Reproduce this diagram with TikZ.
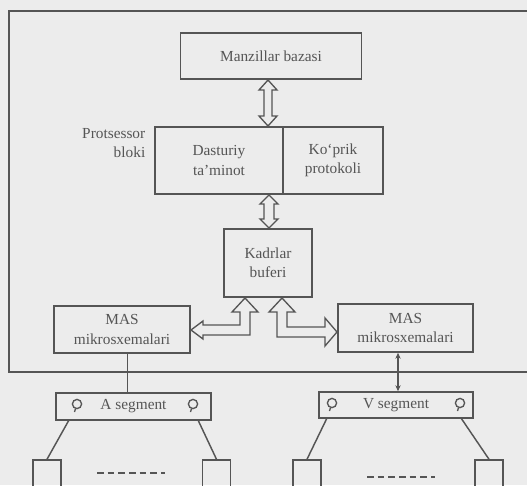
\documentclass[tikz,border=0pt]{standalone}
\usepackage{fontspec}
\setmainfont{Liberation Serif}
\usetikzlibrary{arrows.meta}
\definecolor{bg}{RGB}{236,236,236}
\definecolor{ink}{RGB}{85,85,85}
\begin{document}
\begin{tikzpicture}[x=0.75pt,y=-0.75pt,
  line width=1.1pt, draw=ink,
  box/.style={draw=ink, line width=1.2pt, text=ink, align=center, inner sep=0pt,
    font=\fontsize{11.5}{14.5}\selectfont},
  lbl/.style={text=ink, inner sep=0pt, font=\fontsize{11.5}{14.5}\selectfont},
  hollow/.style={draw=ink, line width=1pt, fill=bg, line join=miter},
  term/.style={draw=ink, line width=1.1pt, minimum width=21pt, minimum height=21pt, inner sep=0pt}]
\useasboundingbox (0,0) rectangle (527,485);
\clip (0,0) rectangle (527,485);
\fill[bg] (0,0) rectangle (527,485);
% outer frame (open to the right)
\draw[ink, line width=1.2pt] (540,11) -- (9,11) -- (9,372) -- (540,372);
% boxes
\node[box, minimum width=135.75pt, minimum height=34.5pt] (addr) at (271,56) {Manzillar bazasi};
\node[box, minimum width=96pt, minimum height=50pt] (soft) at (219,160.5) {Dasturiy\\ta’minot};
\node[box, minimum width=75pt, minimum height=50pt] (proto) at (333,160.5) {Ko‘prik\\protokoli};
\node[lbl, anchor=east, align=right] (proc) at (146,143) {Protsessor\\bloki};
\node[box, minimum width=66pt, minimum height=51pt] (buf) at (268,263) {Kadrlar\\buferi};
\node[box, minimum width=102pt, minimum height=35.25pt] (masl) at (122,329.5) {MAS\\mikrosxemalari};
\node[box, minimum width=101.25pt, minimum height=36pt] (masr) at (405.5,328) {MAS\\mikrosxemalari};
% segment boxes
\node[box, minimum width=116.25pt, minimum height=20.25pt] (segA) at (133.5,406.5) {A segment};
\node[box, minimum width=115.5pt, minimum height=19.5pt] (segV) at (396,405) {V segment};
% hollow double arrows (vertical)
\draw[hollow] (268,80) -- (277,90) -- (272,90) -- (272,116) -- (277,116) -- (268,126)
  -- (259,116) -- (264,116) -- (264,90) -- (259,90) -- cycle;
\draw[hollow] (269,195) -- (278,204) -- (274,204) -- (274,219) -- (278,219) -- (269,228)
  -- (260,219) -- (264,219) -- (264,204) -- (260,204) -- cycle;
% L-shaped hollow arrows
\draw[hollow] (191,330) -- (203,321) -- (203,325) -- (240,325) -- (240,312) -- (232,312)
  -- (245,298) -- (258,312) -- (250,312) -- (250,335) -- (203,335) -- (203,339) -- cycle;
\draw[hollow] (282,298) -- (295,312) -- (287,312) -- (287,327) -- (325,327) -- (325,318)
  -- (337,332) -- (325,346) -- (325,337) -- (277,337) -- (277,312) -- (269,312) -- cycle;
% links to segments
\draw[ink, line width=1.1pt] (masl.south -| segA.north) ++(-6,0) coordinate (la) -- (la |- segA.north);
\draw[ink, line width=1pt, {Stealth[length=4.5pt,width=4pt]}-{Stealth[length=4.5pt,width=4pt]}]
  (masr.south) ++(-7.5,0) coordinate (lb) -- (lb |- segV.north);
% connector circles in segments
\foreach \p in {77,193}{
  \draw[ink, line width=1pt] (\p,404) circle (4.6);
  \draw[ink, line width=1pt] (\p-1.5,408.6) -- (\p-2.5,412);
}
\foreach \p in {332,460}{
  \draw[ink, line width=1pt] (\p,403) circle (4.6);
  \draw[ink, line width=1pt] (\p-1.5,407.6) -- (\p-2.5,411);
}
% stations
\node[term] (a1) at (47,474) {};
\node[term] (a2) at (216.5,474) {};
\node[term] (v1) at (307,474) {};
\node[term] (v2) at (489,474) {};
\draw[ink, line width=1.1pt] (69,420) -- (a1.north);
\draw[ink, line width=1.1pt] (198,420) -- (a2.north);
\draw[ink, line width=1.1pt] (327,418) -- (v1.north);
\draw[ink, line width=1.1pt] (461,418) -- (v2.north);
\draw[ink, line width=1pt, dash pattern=on 5pt off 3pt] (97,473) -- (165,473);
\draw[ink, line width=1pt, dash pattern=on 5pt off 3pt] (367,477) -- (435,477);
\end{tikzpicture}
\end{document}
